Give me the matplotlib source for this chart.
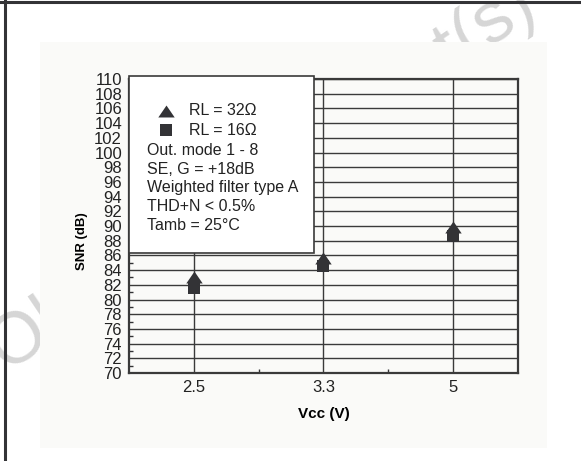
import numpy as np
import matplotlib.pyplot as plt
from matplotlib.patches import Rectangle
from matplotlib.ticker import MultipleLocator, FixedLocator

plt.rcParams['font.family'] = ['Liberation Sans', 'DejaVu Sans']

# data
vcc_labels = ["2.5", "3.3", "5"]
snr_32 = [83.1, 85.7, 89.8]   # RL = 32 ohm (triangles)
snr_16 = [81.5, 84.5, 88.6]   # RL = 16 ohm (squares)
series_labels = ["RL = 32\u03a9", "RL = 16\u03a9"]
notes = ["Out. mode 1 - 8", "SE, G = +18dB", "Weighted filter type A",
         "THD+N < 0.5%", "Tamb = 25\u00b0C"]

ink = '#333336'
tri = [(-1, -0.73), (1, -0.73), (0, 0.73)]

fig = plt.figure(figsize=(5.81, 4.61), dpi=100)

# page decorations: watermark, frame lines, grey panel
fig.text(0.011, 0.19, "Obsolete Product(s)", fontsize=52, color='#d6d6d6',
         rotation=34, rotation_mode='anchor', ha='left', va='baseline', zorder=-3)
fig.patches.append(Rectangle((0.0688, 0.0275), 0.872, 0.882, transform=fig.transFigure,
                             facecolor='#fafaf8', edgecolor='none', zorder=-2))
fig.lines.append(plt.Line2D([0, 1], [0.996, 0.996], transform=fig.transFigure,
                            color=ink, lw=2.2, zorder=5))
fig.lines.append(plt.Line2D([0.0081, 0.0081], [0, 1], transform=fig.transFigure,
                            color=ink, lw=2.2, zorder=5))

ax = fig.add_axes([0.222, 0.1909, 0.6695, 0.6377])
ax.set_facecolor('#fafaf8')

x = np.arange(1, len(vcc_labels) + 1)
ax.plot(x, snr_16, linestyle='none', marker='s', markersize=8.8, mew=0, color=ink, zorder=4)
ax.plot(x, snr_32, linestyle='none', marker=tri, markersize=11.8, mew=0, color=ink, zorder=5)

ax.set_xlim(0.5, 3.5)
ax.set_ylim(70, 110)
ax.set_xticks(x)
ax.set_xticklabels(vcc_labels)
ax.xaxis.set_minor_locator(FixedLocator([1.5, 2.5]))
ax.yaxis.set_major_locator(MultipleLocator(2))
ax.yaxis.set_minor_locator(MultipleLocator(1))
ax.tick_params(which='major', direction='in', length=0, labelsize=12, pad=5, colors='#222')
ax.tick_params(axis='y', which='major', pad=5)
ax.tick_params(which='minor', direction='in', length=3, width=1, color=ink)
ax.grid(True, which='major', color='#3a3a3a', lw=1.0)
for s in ax.spines.values():
    s.set_color('#3a3a3a')
    s.set_linewidth(1.6)

ax.set_xlabel("Vcc (V)", fontsize=11, fontweight='bold', labelpad=9)
ax.set_ylabel("SNR (dB)", fontsize=9.5, fontweight='bold')
ax.yaxis.set_label_coords(-0.105, 0.45)

# legend box
ax.add_patch(Rectangle((0, 0.409), 0.4756, 0.6, transform=ax.transAxes, facecolor='white',
                       edgecolor='#3a3a3a', lw=1.2, zorder=3, clip_on=False))
ax.plot([0.0951], [0.892], transform=ax.transAxes, marker=tri, markersize=11.8,
        mew=0, color=ink, zorder=6)
ax.plot([0.0951], [0.8265], transform=ax.transAxes, marker='s', markersize=8,
        mew=0, color=ink, zorder=6)
ax.text(0.154, 0.892, series_labels[0], transform=ax.transAxes, fontsize=11.5,
        va='center', color='#222', zorder=6)
ax.text(0.154, 0.8265, series_labels[1], transform=ax.transAxes, fontsize=11.5,
        va='center', color='#222', zorder=6)
for i, t in enumerate(notes):
    ax.text(0.047, 0.757 - i * 0.0636, t, transform=ax.transAxes, fontsize=11.5,
            va='center', color='#222', zorder=6)

fig.savefig('out.png', dpi=100)
